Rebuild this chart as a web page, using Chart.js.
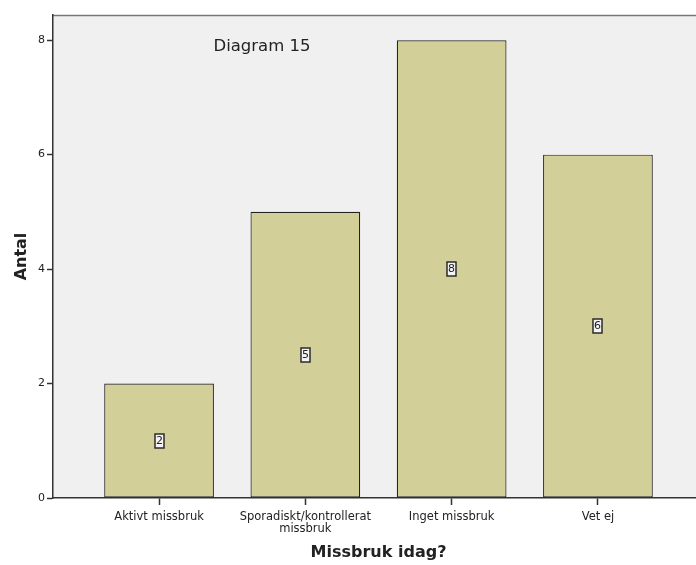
<!DOCTYPE html>
<html>
<head>
<meta charset="utf-8">
<script src="https://cdn.jsdelivr.net/npm/chart.js@4"></script>
<style>
  html, body { margin: 0; padding: 0; background: #fff; overflow: hidden; }
  #wrap { width: 704px; height: 565px; }
</style>
</head>
<body>
<div id="wrap"><canvas id="chart"></canvas></div>
<script>
// data
const categories = ['Aktivt missbruk', ['Sporadiskt/kontrollerat', 'missbruk'], 'Inget missbruk', 'Vet ej'];
const counts = [2, 5, 8, 6];
const yTicks = [0, 2, 4, 6, 8];

const FONT = '"DejaVu Sans", sans-serif';

// grey plot background with a frame on top
const plotBackground = {
    id: 'plotBackground',
    beforeDraw(chart) {
        const { ctx, chartArea: a } = chart;
        ctx.save();
        ctx.fillStyle = '#f0f0f0';
        ctx.fillRect(a.left, a.top, a.right - a.left, a.bottom - a.top);
        ctx.strokeStyle = '#777';
        ctx.lineWidth = 1.5;
        ctx.beginPath();
        ctx.moveTo(a.left, a.top + 0.5);
        ctx.lineTo(a.right, a.top + 0.5);
        ctx.stroke();
        ctx.restore();
    }
};

// boxed count in the middle of each bar, plus the inner caption
const barLabels = {
    id: 'barLabels',
    afterDatasetsDraw(chart) {
        const { ctx, chartArea: a } = chart;
        const meta = chart.getDatasetMeta(0);
        ctx.save();
        ctx.font = '11px ' + FONT;
        ctx.textAlign = 'center';
        ctx.textBaseline = 'middle';
        meta.data.forEach((bar, i) => {
            const txt = String(counts[i]);
            const y = Math.round((bar.y + bar.base) / 2);
            const w = 9;
            const h = 14;
            const x0 = Math.round(bar.x - w / 2);
            ctx.fillStyle = '#f4f4f4';
            ctx.fillRect(x0, y - h / 2, w, h);
            ctx.strokeStyle = '#2b2b2b';
            ctx.lineWidth = 1.5;
            ctx.strokeRect(x0, y - h / 2, w, h);
            ctx.fillStyle = '#222';
            ctx.fillText(txt, x0 + w / 2, y + 0.5);
        });
        ctx.font = '16.5px ' + FONT;
        ctx.fillStyle = '#222';
        ctx.fillText('Diagram 15', a.left + 209, a.top + 32);
        ctx.restore();
    }
};

new Chart(document.getElementById('chart'), {
    type: 'bar',
    data: {
        datasets: [
            {
                label: 'Antal',
                data: counts.map((v, i) => ({ x: i, y: v })),
                backgroundColor: '#d3cf98',
                borderColor: '#222',
                borderWidth: 1.2,
                borderSkipped: false,
                barPercentage: 0.75,
                categoryPercentage: 1,
            },
        ],
    },
    options: {
        responsive: true,
        maintainAspectRatio: false,
        animation: false,
        layout: { padding: { top: 15, left: 0, right: 0, bottom: 0 } },
        plugins: {
            legend: { display: false },
            tooltip: { enabled: false },
        },
        scales: {
            x: {
                type: 'linear',
                min: -0.725,
                max: 3.725,
                offset: false,
                afterBuildTicks(scale) { scale.ticks = categories.map((c, i) => ({ value: i })); },
                grid: { offset: false, drawOnChartArea: false, drawTicks: true, tickLength: 7, tickColor: '#333', tickWidth: 1.5 },
                border: { color: '#333', width: 1.5 },
                ticks: {
                    color: '#222', font: { family: FONT, size: 11.5, lineHeight: 1.05 }, padding: 6, maxRotation: 0, autoSkip: false,
                    callback: (v) => categories[v],
                },
                title: { display: true, text: 'Missbruk idag?', color: '#222', font: { family: FONT, size: 16, weight: 'bold' }, padding: { top: 0, bottom: 3 } },
                afterFit(scale) { scale.height = 67; },
            },
            y: {
                min: 0,
                max: 8.44,
                afterBuildTicks(scale) { scale.ticks = yTicks.map(v => ({ value: v })); },
                grid: { drawOnChartArea: false, drawTicks: true, tickLength: 6, tickColor: '#333', tickWidth: 1.5 },
                border: { color: '#333', width: 1.5 },
                ticks: { color: '#222', font: { family: FONT, size: 11 }, padding: 2 },
                title: { display: true, text: 'Antal', color: '#222', font: { family: FONT, size: 16, weight: 'bold' }, padding: { top: 12, bottom: 0 } },
                afterFit(scale) { scale.width = 53; },
            },
        },
    },
    plugins: [plotBackground, barLabels],
});
</script>
</body>
</html>
